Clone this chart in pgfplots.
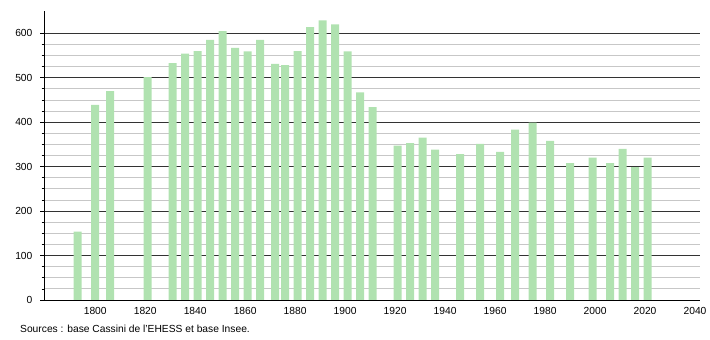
\documentclass[border=0pt]{standalone}
\usepackage{fontspec}
\setmainfont{Liberation Sans}
\usepackage{pgfplots}
\pgfplotsset{compat=1.18}
\definecolor{barg}{RGB}{176,226,176}
\begin{document}
\fontsize{10.3}{12}\selectfont
\begin{tikzpicture}
\path[use as bounding box] (0,0) rectangle (710bp,340bp);
\begin{axis}[
  at={(44bp,40bp)}, anchor=south west,
  scale only axis, width=656bp, height=289bp,
  xmin=1779.5, xmax=2042, ymin=0, ymax=650,
  axis x line*=bottom, axis y line*=left,
  axis line style={-, black, line width=0.8bp},
  ytick={0,100,...,600}, minor y tick num=3,
  xtick={1800,1820,...,2040},
  x tick label style={/pgf/number format/1000 sep={}},
  ymajorgrids, yminorgrids,
  major grid style={black!80, line width=0.8bp},
  minor grid style={black!22, line width=0.8bp},
  tick align=outside,
  major tick length=4bp, minor tick length=2.5bp,
  x tick style={draw=none},
  tick style={black, line width=0.7bp},
  yticklabel style={xshift=-4bp},
  tick label style={font=\fontsize{10.3}{12}\selectfont},
  /pgf/number format/assume math mode=true,
  ybar, bar width=8bp,
]
\addplot[fill=barg, draw=none] coordinates {
(1793,154) (1800,439) (1806,470) (1821,501) (1831,533) (1836,554)
(1841,560) (1846,585) (1851,605) (1856,567) (1861,559) (1866,585)
(1872,531) (1876,528) (1881,560) (1886,614) (1891,629) (1896,620)
(1901,559) (1906,467) (1911,434) (1921,347) (1926,353) (1931,365)
(1936,338) (1946,328) (1954,351) (1962,333) (1968,383) (1975,399)
(1982,358) (1990,308) (1999,320) (2006,308) (2011,340) (2016,299)
(2021,320)
};
\end{axis}
\node[anchor=base west, inner sep=0] at (20bp,8bp) {Sources : base Cassini de l'EHESS et base Insee.};
\end{tikzpicture}
\end{document}
